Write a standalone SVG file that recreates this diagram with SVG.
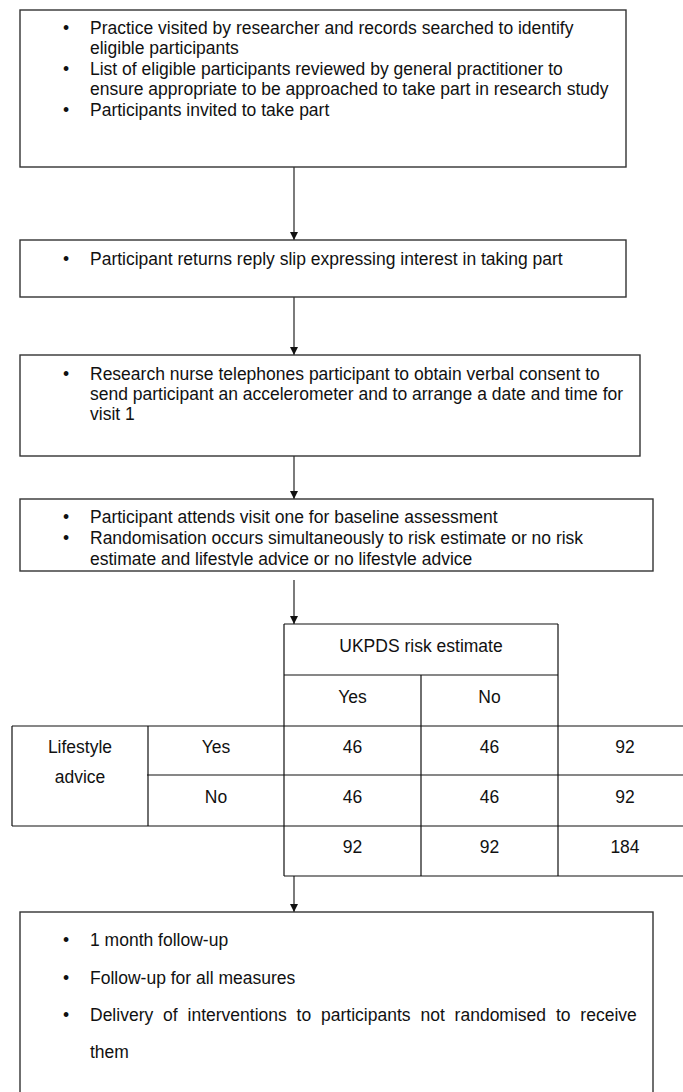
<svg xmlns="http://www.w3.org/2000/svg" width="683" height="1092" viewBox="0 0 683 1092">
<defs>
<marker id="ah" viewBox="0 0 10 10" refX="10" refY="5" markerWidth="8" markerHeight="8" markerUnits="userSpaceOnUse" orient="auto">
<path d="M0,0 L10,5 L0,10 Z" fill="#111"/>
</marker>
<clipPath id="clip4"><rect x="20" y="499" width="633" height="67"/></clipPath>
</defs>
<style>
text{font-family:"Liberation Sans",Arial,sans-serif;font-size:17.5px;fill:#111}
.box{fill:#fff;stroke:#333;stroke-width:1.4}
.tbl{stroke:#111;stroke-width:1.2;fill:none}
.c{text-anchor:middle}
.b{text-anchor:middle}
.conn{stroke:#444;stroke-width:1.4;fill:none;marker-end:url(#ah)}
</style>
<rect width="683" height="1092" fill="#fff"/>
<g id="connectors">
<line class="conn" x1="294" y1="167" x2="294" y2="240"/>
<line class="conn" x1="294" y1="297" x2="294" y2="355"/>
<line class="conn" x1="294" y1="456" x2="294" y2="499"/>
<line class="conn" x1="294" y1="580" x2="294" y2="624"/>
<line class="conn" x1="294" y1="876" x2="294" y2="912"/>
</g>
<g id="box1">
<rect class="box" x="20" y="10" width="606" height="157"/>
<text class="b" x="66" y="33.5">•</text>
<text x="90" y="33.5">Practice visited by researcher and records searched to identify</text>
<text x="90" y="54">eligible participants</text>
<text class="b" x="66" y="74.7">•</text>
<text x="90" y="74.7">List of eligible participants reviewed by general practitioner to</text>
<text x="90" y="95.3">ensure appropriate to be approached to take part in research study</text>
<text class="b" x="66" y="116">•</text>
<text x="90" y="116">Participants invited to take part</text>
</g>
<g id="box2">
<rect class="box" x="20" y="240" width="606" height="57"/>
<text class="b" x="66" y="265">•</text>
<text x="90" y="265">Participant returns reply slip expressing interest in taking part</text>
</g>
<g id="box3">
<rect class="box" x="20" y="355" width="620" height="101"/>
<text class="b" x="66" y="380">•</text>
<text x="90" y="380">Research nurse telephones participant to obtain verbal consent to</text>
<text x="90" y="400">send participant an accelerometer and to arrange a date and time for</text>
<text x="90" y="419.5">visit 1</text>
</g>
<g id="box4">
<rect class="box" x="20" y="499" width="633" height="72"/>
<g clip-path="url(#clip4)">
<text class="b" x="66" y="523">•</text>
<text x="90" y="523">Participant attends visit one for baseline assessment</text>
<text class="b" x="66" y="544">•</text>
<text x="90" y="544">Randomisation occurs simultaneously to risk estimate or no risk</text>
<text x="90" y="565">estimate and lifestyle advice or no lifestyle advice</text>
</g>
</g>
<g id="table">
<path class="tbl" d="M284,624 H558 M284,675 H558 M12,726 H683 M147,775 H683 M12,826 H683 M284,876 H683 M12,726 V826 M148,726 V826 M284,624 V876 M421,675 V876 M558,624 V876"/>
<text class="c" x="421" y="652">UKPDS risk estimate</text>
<text class="c" x="352.5" y="703">Yes</text>
<text class="c" x="489.5" y="703">No</text>
<text class="c" x="80" y="753">Lifestyle</text>
<text class="c" x="80" y="783">advice</text>
<text class="c" x="216" y="753">Yes</text>
<text class="c" x="352.5" y="753">46</text>
<text class="c" x="489.5" y="753">46</text>
<text class="c" x="625" y="753">92</text>
<text class="c" x="216" y="803">No</text>
<text class="c" x="352.5" y="803">46</text>
<text class="c" x="489.5" y="803">46</text>
<text class="c" x="625" y="803">92</text>
<text class="c" x="352.5" y="853">92</text>
<text class="c" x="489.5" y="853">92</text>
<text class="c" x="625" y="853">184</text>
</g>
<g id="box5">
<rect class="box" x="20" y="912" width="633" height="200"/>
<text class="b" x="66" y="946">•</text>
<text x="90" y="946">1 month follow-up</text>
<text class="b" x="66" y="983.5">•</text>
<text x="90" y="983.5">Follow-up for all measures</text>
<text class="b" x="66" y="1021">•</text>
<text x="90" y="1021" style="word-spacing:5px">Delivery of interventions to participants not randomised to receive</text>
<text x="90" y="1058">them</text>
</g>
</svg>
